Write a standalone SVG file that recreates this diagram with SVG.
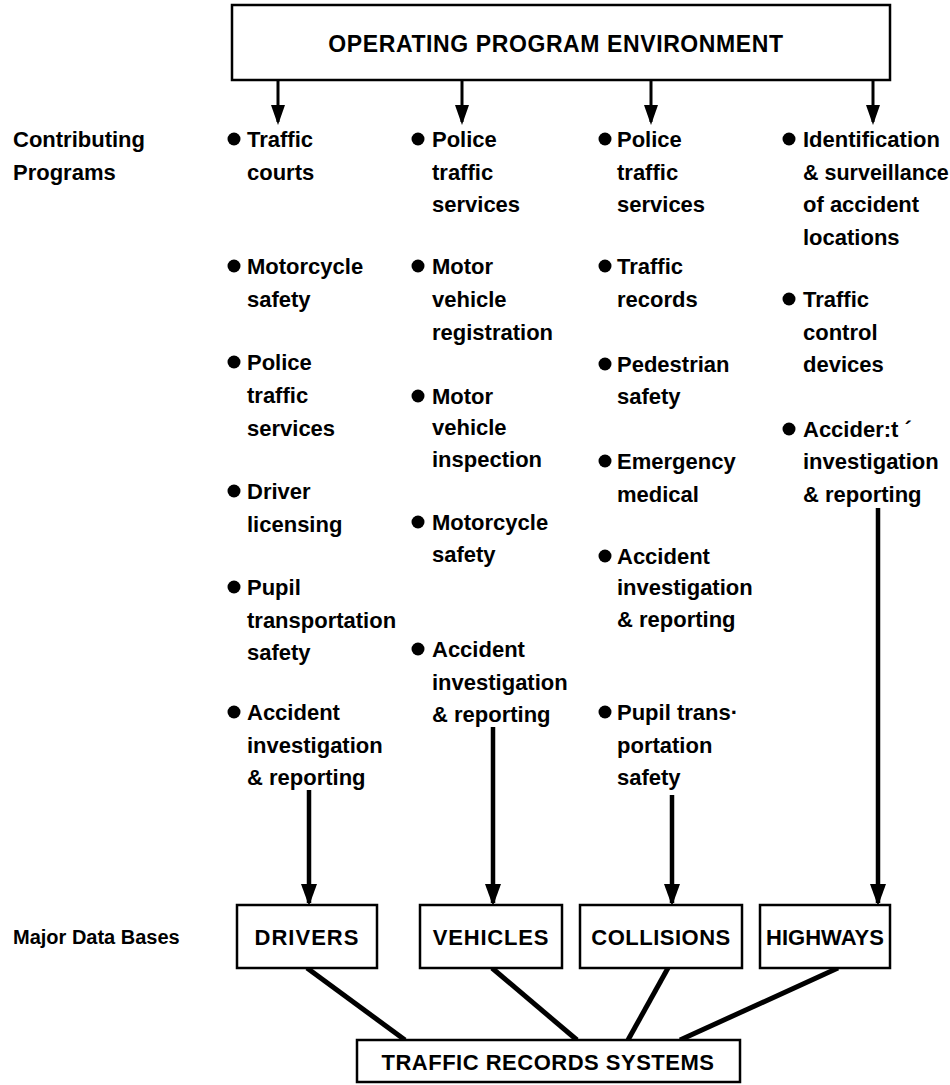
<svg xmlns="http://www.w3.org/2000/svg" width="950" height="1085" viewBox="0 0 950 1085">
<style>
text{font-family:"Liberation Sans",Arial,sans-serif;font-weight:bold;fill:#000}
.t{font-size:22px}
.h{font-size:23px;letter-spacing:0.6px}
.lbl{font-size:22px}
.box{fill:#fff;stroke:#000;stroke-width:2.5}
.b{fill:#000}
.a1{stroke:#000;stroke-width:3;fill:none}
.a2{stroke:#000;stroke-width:4.5;fill:none}
.ln{stroke:#000;stroke-width:5;fill:none}
</style>
<defs>
<marker id="ah1" viewBox="0 0 20 14" refX="17" refY="7" markerWidth="20" markerHeight="14" markerUnits="userSpaceOnUse" orient="auto"><path d="M0,0 L20,7 L0,14 z" fill="#000"/></marker>
<marker id="ah2" viewBox="0 0 22 16" refX="19" refY="8" markerWidth="22" markerHeight="16" markerUnits="userSpaceOnUse" orient="auto"><path d="M0,0 L22,8 L0,16 z" fill="#000"/></marker>
</defs>

<g id="connectors">
<line class="a1" x1="278" y1="80" x2="278" y2="122" marker-end="url(#ah1)"/>
<line class="a1" x1="462" y1="80" x2="462" y2="122" marker-end="url(#ah1)"/>
<line class="a1" x1="651" y1="80" x2="651" y2="122" marker-end="url(#ah1)"/>
<line class="a1" x1="873" y1="80" x2="873" y2="122" marker-end="url(#ah1)"/>
<line class="a2" x1="309" y1="790" x2="309" y2="903" marker-end="url(#ah2)"/>
<line class="a2" x1="493" y1="727" x2="493" y2="903" marker-end="url(#ah2)"/>
<line class="a2" x1="672" y1="795" x2="672" y2="903" marker-end="url(#ah2)"/>
<line class="a2" x1="878" y1="508" x2="878" y2="903" marker-end="url(#ah2)"/>
<line class="ln" x1="307" y1="968" x2="405" y2="1040"/>
<line class="ln" x1="492" y1="968" x2="577" y2="1040"/>
<line class="ln" x1="668" y1="968" x2="628" y2="1040"/>
<line class="ln" x1="838" y1="968" x2="680" y2="1040"/>
</g>

<g id="operating-program-environment">
<rect class="box" x="232" y="5" width="658" height="75"/>
<text class="h" x="556" y="52" text-anchor="middle">OPERATING PROGRAM ENVIRONMENT</text>
</g>

<g id="label-contributing">
<text class="lbl" x="13" y="147">Contributing</text>
<text class="lbl" x="13" y="180">Programs</text>
</g>

<g id="column-drivers">
<circle class="b" cx="234" cy="139" r="6.5"/>
<text class="t" x="247" y="147">Traffic</text>
<text class="t" x="247" y="180">courts</text>
<circle class="b" cx="234" cy="266" r="6.5"/>
<text class="t" x="247" y="274">Motorcycle</text>
<text class="t" x="247" y="307">safety</text>
<circle class="b" cx="234" cy="362" r="6.5"/>
<text class="t" x="247" y="370">Police</text>
<text class="t" x="247" y="403">traffic</text>
<text class="t" x="247" y="436">services</text>
<circle class="b" cx="234" cy="491" r="6.5"/>
<text class="t" x="247" y="499">Driver</text>
<text class="t" x="247" y="532">licensing</text>
<circle class="b" cx="234" cy="587" r="6.5"/>
<text class="t" x="247" y="595">Pupil</text>
<text class="t" x="247" y="628">transportation</text>
<text class="t" x="247" y="660">safety</text>
<circle class="b" cx="234" cy="712" r="6.5"/>
<text class="t" x="247" y="720">Accident</text>
<text class="t" x="247" y="753">investigation</text>
<text class="t" x="247" y="785">&amp; reporting</text>
</g>

<g id="column-vehicles">
<circle class="b" cx="418" cy="139" r="6.5"/>
<text class="t" x="432" y="147">Police</text>
<text class="t" x="432" y="180">traffic</text>
<text class="t" x="432" y="212">services</text>
<circle class="b" cx="418" cy="266" r="6.5"/>
<text class="t" x="432" y="274">Motor</text>
<text class="t" x="432" y="307">vehicle</text>
<text class="t" x="432" y="340">registration</text>
<circle class="b" cx="418" cy="396" r="6.5"/>
<text class="t" x="432" y="404">Motor</text>
<text class="t" x="432" y="435">vehicle</text>
<text class="t" x="432" y="467">inspection</text>
<circle class="b" cx="418" cy="522" r="6.5"/>
<text class="t" x="432" y="530">Motorcycle</text>
<text class="t" x="432" y="562">safety</text>
<circle class="b" cx="418" cy="649" r="6.5"/>
<text class="t" x="432" y="657">Accident</text>
<text class="t" x="432" y="690">investigation</text>
<text class="t" x="432" y="722">&amp; reporting</text>
</g>

<g id="column-collisions">
<circle class="b" cx="605" cy="139" r="6.5"/>
<text class="t" x="617" y="147">Police</text>
<text class="t" x="617" y="180">traffic</text>
<text class="t" x="617" y="212">services</text>
<circle class="b" cx="605" cy="266" r="6.5"/>
<text class="t" x="617" y="274">Traffic</text>
<text class="t" x="617" y="307">records</text>
<circle class="b" cx="605" cy="364" r="6.5"/>
<text class="t" x="617" y="372">Pedestrian</text>
<text class="t" x="617" y="404">safety</text>
<circle class="b" cx="605" cy="461" r="6.5"/>
<text class="t" x="617" y="469">Emergency</text>
<text class="t" x="617" y="502">medical</text>
<circle class="b" cx="605" cy="556" r="6.5"/>
<text class="t" x="617" y="564">Accident</text>
<text class="t" x="617" y="595">investigation</text>
<text class="t" x="617" y="627">&amp; reporting</text>
<circle class="b" cx="605" cy="712" r="6.5"/>
<text class="t" x="617" y="720">Pupil trans·</text>
<text class="t" x="617" y="753">portation</text>
<text class="t" x="617" y="785">safety</text>
</g>

<g id="column-highways">
<circle class="b" cx="789" cy="139" r="6.5"/>
<text class="t" x="803" y="147">Identification</text>
<text class="t" x="803" y="180" style="font-size:21.5px">&amp; surveillance</text>
<text class="t" x="803" y="212">of accident</text>
<text class="t" x="803" y="245">locations</text>
<circle class="b" cx="789" cy="299" r="6.5"/>
<text class="t" x="803" y="307">Traffic</text>
<text class="t" x="803" y="340">control</text>
<text class="t" x="803" y="372">devices</text>
<circle class="b" cx="789" cy="429" r="6.5"/>
<text class="t" x="803" y="437">Accider:t ´</text>
<text class="t" x="803" y="469">investigation</text>
<text class="t" x="803" y="502">&amp; reporting</text>
</g>

<g id="label-major">
<text x="13" y="944" style="font-size:20px">Major Data Bases</text>
</g>

<g id="drivers">
<rect class="box" x="237" y="905" width="140" height="63"/>
<text class="t" x="307" y="945" text-anchor="middle" style="letter-spacing:1px">DRIVERS</text>
</g>
<g id="vehicles">
<rect class="box" x="420" y="905" width="142" height="63"/>
<text class="t" x="491" y="945" text-anchor="middle" style="letter-spacing:0.8px">VEHICLES</text>
</g>
<g id="collisions">
<rect class="box" x="580" y="905" width="162" height="63"/>
<text class="t" x="661" y="945" text-anchor="middle" style="letter-spacing:0.5px">COLLISIONS</text>
</g>
<g id="highways">
<rect class="box" x="760" y="905" width="130" height="63"/>
<text class="t" x="825" y="945" text-anchor="middle">HIGHWAYS</text>
</g>
<g id="traffic-records-systems">
<rect class="box" x="357" y="1040" width="383" height="42"/>
<text class="t" x="548" y="1070" text-anchor="middle" style="letter-spacing:0.5px">TRAFFIC RECORDS SYSTEMS</text>
</g>
</svg>
